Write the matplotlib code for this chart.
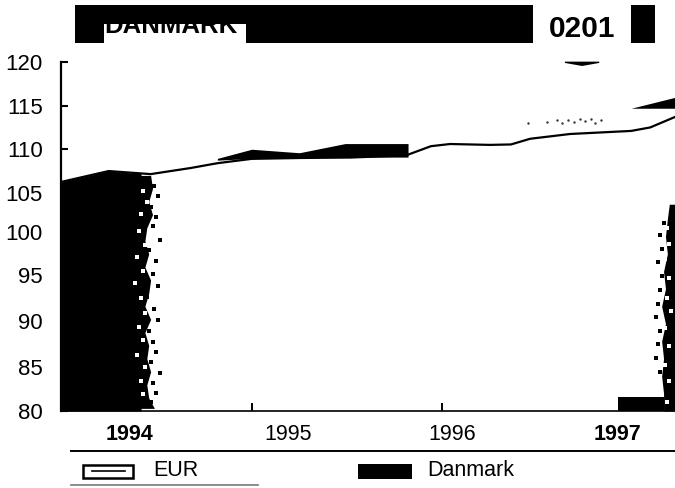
import matplotlib
matplotlib.use("Agg")
import matplotlib.pyplot as plt
from matplotlib.patches import Rectangle
from matplotlib.transforms import ScaledTranslation

plt.rcParams['font.family'] = ['Liberation Sans', 'DejaVu Sans']

W, H = 675, 488
# ---- data ----
eur_x = [1994.0, 1994.25, 1994.47, 1994.68, 1994.82, 1995.0, 1995.26, 1995.52, 1995.81, 1995.94, 1996.04,
         1996.25, 1996.36, 1996.46, 1996.67, 1996.99, 1997.09, 1997.22]
eur_y = [106.25, 107.5, 107.15, 107.85, 108.4, 108.9, 109.0, 109.05, 109.3, 110.35, 110.6,
         110.5, 110.55, 111.2, 111.75, 112.1, 112.5, 113.7]

dk_a_x = [1994.0, 1994.25, 1994.42]
dk_a_y = [106.25, 107.5, 107.2]
dk_b_x = [1994.82, 1995.0, 1995.25, 1995.49, 1995.82]
dk_b_hi = [108.95, 110.0, 109.6, 110.65, 110.65]
dk_b_lo = [108.75, 108.95, 109.05, 109.1, 109.1]
dk_c_x = [1996.99, 1997.22]
dk_c_hi = [114.7, 115.95]
dk_c_lo = [114.7, 114.7]
dk_d_x = [1996.64, 1996.73, 1996.82]
dk_d_hi = [120.1, 120.1, 120.1]
dk_d_lo = [119.95, 119.6, 119.95]
dk_e_x = [1996.92, 1997.16]
dk_e_hi = [81.6, 81.6]

edge_y = [107.0, 105.5, 104, 102.5, 101, 99.5, 98, 96.5, 95, 93.5, 92, 90.5, 89, 87.5, 86, 84.5, 83, 81.5, 80.3]
edge_x = [1994.47, 1994.48, 1994.46, 1994.48, 1994.45, 1994.44, 1994.46, 1994.44, 1994.47, 1994.46, 1994.44,
          1994.47, 1994.44, 1994.46, 1994.45, 1994.47, 1994.45, 1994.46, 1994.49]
right_y = [103.7, 102, 100, 98, 96, 94, 92, 90, 88, 86, 84, 82, 80]
right_x = [1997.19, 1997.18, 1997.17, 1997.18, 1997.16, 1997.17, 1997.15, 1997.17, 1997.15, 1997.16, 1997.15, 1997.16, 1997.16]

black_x = [1994.49, 1994.51, 1994.47, 1994.50, 1994.48, 1994.52, 1994.46, 1994.50, 1994.48, 1994.51, 1994.45,
           1994.49, 1994.51, 1994.46, 1994.48, 1994.50, 1994.47, 1994.52, 1994.48, 1994.50, 1994.47,
           1997.16, 1997.14, 1997.15, 1997.13, 1997.15, 1997.14, 1997.13, 1997.12, 1997.14, 1997.13, 1997.12, 1997.14]
black_y = [105.8, 104.6, 103.4, 102.2, 101.2, 99.6, 98.5, 97.2, 95.7, 94.3, 93.1,
           91.7, 90.4, 89.2, 87.9, 86.8, 85.6, 84.3, 83.2, 82.1, 81.0,
           101.5, 100.2, 98.6, 97.1, 95.5, 93.9, 92.3, 90.8, 89.2, 87.7, 86.1, 84.5]
white_x = [1994.43, 1994.45, 1994.42, 1994.41, 1994.44, 1994.40, 1994.43, 1994.39, 1994.42, 1994.44, 1994.41,
           1994.43, 1994.40, 1994.44, 1994.42, 1994.43,
           1997.18, 1997.19, 1997.17, 1997.19, 1997.18, 1997.20, 1997.17, 1997.19, 1997.17, 1997.19, 1997.18]
white_y = [105.2, 103.9, 102.6, 100.6, 99.0, 97.6, 96.1, 94.7, 92.9, 91.2, 89.6,
           88.1, 86.4, 85.0, 83.4, 82.0,
           101.0, 99.1, 97.4, 95.2, 93.0, 91.5, 89.5, 87.4, 85.3, 83.4, 81.0]

y_ticks = [120, 115, 110, 105, 100, 95, 90, 85, 80]
y_label_shift_px = [0, 0, 0, 0, 5, 5, 3, 0, 0]
year_labels = ['1994', '1995', '1996', '1997']
year_label_x = [1994.36, 1995.19, 1996.05, 1996.92]
year_label_bold = [True, False, False, True]
year_ticks = [1995, 1996]
specks_x = [1996.45, 1996.55, 1996.6, 1996.63, 1996.66, 1996.69, 1996.72, 1996.75, 1996.78, 1996.8, 1996.83]
specks_y = [113.0, 113.1, 113.3, 113.0, 113.4, 113.1, 113.5, 113.2, 113.5, 113.0, 113.4]

fig = plt.figure(figsize=(W/100, H/100), dpi=100)
ax = fig.add_axes([61/W, 1-411/H, (W-61)/W, (411-62)/H])
ax.set_xlim(1994.0, 1997.22)
ax.set_ylim(80, 120)
for s in ['top', 'right']:
    ax.spines[s].set_visible(False)
ax.spines['left'].set_linewidth(1.6)
ax.spines['bottom'].set_linewidth(1.2)

ax.fill_between(dk_a_x, 80, dk_a_y, color='k', lw=0)
ax.fill_betweenx(edge_y, 1994.38, edge_x, color='k', lw=0)
ax.fill_between(dk_b_x, dk_b_lo, dk_b_hi, color='k', lw=0)
ax.fill_between(dk_c_x, dk_c_lo, dk_c_hi, color='k', lw=0)
ax.fill_between(dk_d_x, dk_d_lo, dk_d_hi, color='k', lw=0, clip_on=False)
ax.fill_between(dk_e_x, 80, dk_e_hi, color='k', lw=0)
ax.fill_betweenx(right_y, right_x, 1997.22, color='k', lw=0)
ax.plot(eur_x, eur_y, color='k', lw=1.6)
ax.scatter(specks_x, specks_y, s=3, color='#333333', lw=0)
ax.scatter(black_x, black_y, s=9, color='k', lw=0, marker='s')
ax.scatter(white_x, white_y, s=5, color='w', lw=0, marker='s')

ax.set_yticks(y_ticks)
ax.set_yticklabels([str(v) for v in y_ticks], fontsize=16)
ax.tick_params(axis='y', direction='in', length=5, width=1.5, pad=13)
for lab, sh in zip(ax.get_yticklabels(), y_label_shift_px):
    lab.set_transform(lab.get_transform() + ScaledTranslation(0, sh/100, fig.dpi_scale_trans))

ax.set_xticks(year_label_x)
ax.set_xticklabels(year_labels, fontsize=15.5)
ax.tick_params(axis='x', length=0, pad=9)
for lab, b in zip(ax.get_xticklabels(), year_label_bold):
    lab.set_fontweight('bold' if b else 'normal')
ax.set_xticks(year_ticks, minor=True)
ax.tick_params(axis='x', which='minor', direction='in', length=6, width=1.4)

# page furniture in pixel coordinates
ov = fig.add_axes([0, 0, 1, 1])
ov.set_xlim(0, W)
ov.set_ylim(H, 0)
ov.axis('off')
ov.patch.set_alpha(0)
ov.add_patch(Rectangle((75, 5), 580, 38, color='k', lw=0))
ov.add_patch(Rectangle((104, 24), 142, 20, color='w', lw=0))
ov.text(104, 33, 'DANMARK', fontsize=18.5, fontweight='bold', color='k', va='baseline', ha='left')
ov.add_patch(Rectangle((533, 3), 98, 43, color='w', lw=0))
ov.text(582, 29, '0201', fontsize=21.5, fontweight='bold', color='k', va='center', ha='center')
ov.plot([71, 675], [451, 451], color='k', lw=1.4)
ov.plot([71, 258], [484.5, 484.5], color='#777777', lw=1.2)
ov.add_patch(Rectangle((83, 465), 50, 13, fc='w', ec='k', lw=1.8))
ov.plot([92, 125], [471, 471], color='k', lw=1.2)
ov.text(153, 471, 'EUR', fontsize=15.5, va='center', ha='left')
ov.add_patch(Rectangle((358, 464), 54, 15, color='k', lw=0))
ov.text(427, 471, 'Danmark', fontsize=15.5, va='center', ha='left')

fig.savefig('out.png', dpi=100)
